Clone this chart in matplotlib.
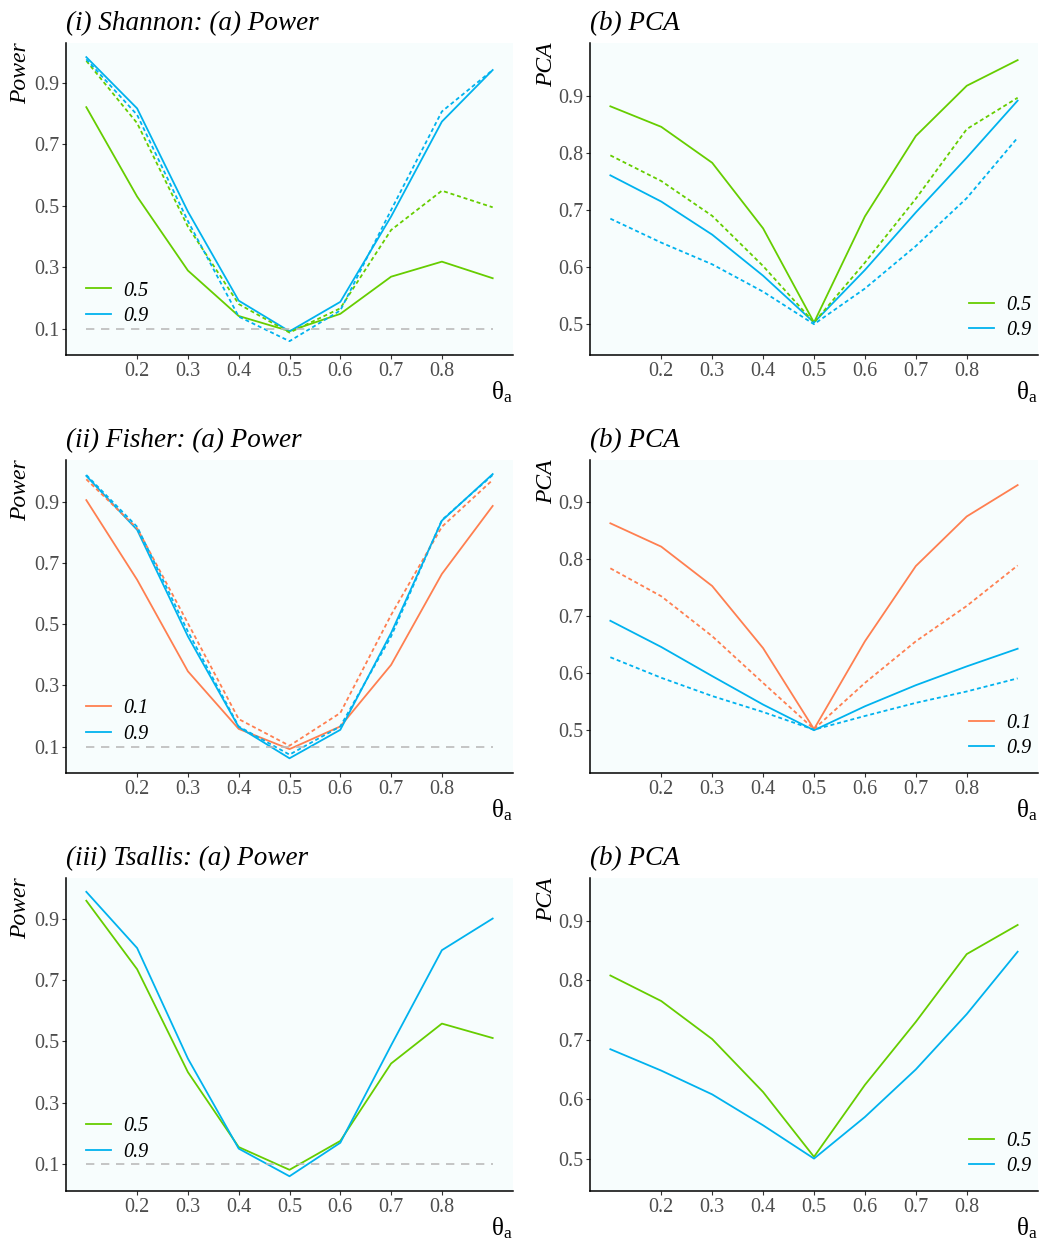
import matplotlib
matplotlib.use("Agg")
import matplotlib.pyplot as plt

plt.rcParams['font.family'] = ['Liberation Serif', 'DejaVu Serif']
plt.rcParams['mathtext.fontset'] = 'custom'
plt.rcParams['mathtext.rm'] = 'Liberation Serif'
plt.rcParams['mathtext.it'] = 'Liberation Serif:italic'

theta = [0.1, 0.2, 0.3, 0.4, 0.5, 0.6, 0.7, 0.8, 0.9]
xticks = [0.2, 0.3, 0.4, 0.5, 0.6, 0.7, 0.8]
power_ticks = [0.1, 0.3, 0.5, 0.7, 0.9]
pca_ticks = [0.5, 0.6, 0.7, 0.8, 0.9]

# (i) Shannon power
sh_pow_05 = [0.821, 0.530, 0.289, 0.141, 0.092, 0.148, 0.269, 0.318, 0.264]
sh_pow_05_d = [0.972, 0.769, 0.432, 0.180, 0.087, 0.166, 0.421, 0.549, 0.495]
sh_pow_09 = [0.984, 0.817, 0.481, 0.191, 0.091, 0.187, 0.465, 0.774, 0.942]
sh_pow_09_d = [0.977, 0.796, 0.450, 0.139, 0.059, 0.159, 0.486, 0.807, 0.942]
# (i) Shannon PCA
sh_pca_05 = [0.882, 0.846, 0.783, 0.668, 0.503, 0.689, 0.830, 0.918, 0.963]
sh_pca_05_d = [0.796, 0.751, 0.690, 0.602, 0.503, 0.608, 0.720, 0.842, 0.897]
sh_pca_09 = [0.761, 0.715, 0.657, 0.585, 0.503, 0.595, 0.696, 0.792, 0.892]
sh_pca_09_d = [0.685, 0.643, 0.605, 0.557, 0.500, 0.5625, 0.637, 0.721, 0.827]
# (ii) Fisher power
fi_pow_01 = [0.905, 0.645, 0.346, 0.158, 0.092, 0.166, 0.367, 0.664, 0.886]
fi_pow_01_d = [0.973, 0.813, 0.503, 0.190, 0.103, 0.210, 0.530, 0.818, 0.971]
fi_pow_09 = [0.984, 0.808, 0.460, 0.164, 0.062, 0.155, 0.471, 0.838, 0.990]
fi_pow_09_d = [0.987, 0.818, 0.476, 0.166, 0.074, 0.166, 0.460, 0.840, 0.987]
# (ii) Fisher PCA
fi_pca_01 = [0.863, 0.822, 0.753, 0.644, 0.502, 0.656, 0.788, 0.875, 0.930]
fi_pca_01_d = [0.784, 0.735, 0.665, 0.583, 0.502, 0.583, 0.656, 0.718, 0.789]
fi_pca_09 = [0.692, 0.646, 0.595, 0.545, 0.500, 0.542, 0.579, 0.612, 0.643]
fi_pca_09_d = [0.628, 0.592, 0.560, 0.532, 0.501, 0.525, 0.548, 0.568, 0.591]
# (iii) Tsallis power
ts_pow_05 = [0.958, 0.735, 0.400, 0.156, 0.082, 0.176, 0.428, 0.558, 0.511]
ts_pow_09 = [0.987, 0.804, 0.444, 0.151, 0.061, 0.170, 0.487, 0.797, 0.900]
# (iii) Tsallis PCA
ts_pca_05 = [0.808, 0.765, 0.701, 0.612, 0.503, 0.624, 0.730, 0.844, 0.893]
ts_pca_09 = [0.684, 0.648, 0.608, 0.556, 0.500, 0.570, 0.650, 0.743, 0.848]

GREEN = '#66CD00'
BLUE = '#00B2EE'
ORANGE = '#FF7F50'
BG = '#F7FDFD'
DOT = (0, (2.2, 1.6))

W, H = 1042, 1239
fig = plt.figure(figsize=(W / 100, H / 100), dpi=100)

cols = [(66, 513), (590, 1038)]
rows = [(43, 355), (460, 773), (878, 1191)]

LEG = dict(frameon=False, prop={'style': 'italic', 'size': 14.5},
           handlelength=1.25, handletextpad=0.6, labelspacing=0.3,
           borderaxespad=0, borderpad=0)


def make_ax(r, c):
    l, rr = cols[c]
    t, b = rows[r]
    ax = fig.add_axes([l / W, 1 - b / H, (rr - l) / W, (b - t) / H])
    ax.set_facecolor(BG)
    for s in ['top', 'right']:
        ax.spines[s].set_visible(False)
    for s in ['left', 'bottom']:
        ax.spines[s].set_linewidth(1.1)
        ax.spines[s].set_color('black')
    ax.tick_params(axis='both', colors='#333333', labelcolor='#4D4D4D',
                   labelsize=14.5, length=3, width=0.8, pad=2)
    ax.set_xlim(0.06, 0.94)
    ax.set_xticks(xticks)
    ax.set_xticklabels([f"{v:.1f}" for v in xticks])
    ax.text(1.0, -37 / (b - t), r'θ$_{\mathrm{a}}$', transform=ax.transAxes,
            ha='right', va='center', fontsize=18)
    return ax


def title(ax, s):
    ax.set_title(s, fontsize=19.5, style='italic', loc='left', pad=9)


def ylab(ax, s, x, y):
    ax.set_ylabel(s, fontsize=17, style='italic')
    ax.yaxis.set_label_coords(x, y)


lw = 1.3

# Row 1
ax = make_ax(0, 0)
ax.plot(theta, sh_pow_05, color=GREEN, lw=lw, label='0.5')
ax.plot(theta, sh_pow_09, color=BLUE, lw=lw, label='0.9')
ax.plot(theta, sh_pow_05_d, color=GREEN, lw=lw, ls=DOT)
ax.plot(theta, sh_pow_09_d, color=BLUE, lw=lw, ls=DOT)
ax.plot([0.1, 0.9], [0.1, 0.1], color='#BBBBBB', lw=1.2, ls=(0, (5, 4)))
ax.set_ylim(0.014, 1.03)
ax.set_yticks(power_ticks)
ax.set_yticklabels([f"{v:.1f}" for v in power_ticks])
ylab(ax, 'Power', -0.077, 0.905)
title(ax, '(i) Shannon: (a) Power')
ax.legend(loc='lower left', bbox_to_anchor=(0.045, 0.094), **LEG)

ax = make_ax(0, 1)
ax.plot(theta, sh_pca_05, color=GREEN, lw=lw, label='0.5')
ax.plot(theta, sh_pca_09, color=BLUE, lw=lw, label='0.9')
ax.plot(theta, sh_pca_05_d, color=GREEN, lw=lw, ls=DOT)
ax.plot(theta, sh_pca_09_d, color=BLUE, lw=lw, ls=DOT)
ax.set_ylim(0.446, 0.993)
ax.set_yticks(pca_ticks)
ax.set_yticklabels([f"{v:.1f}" for v in pca_ticks])
ylab(ax, 'PCA', -0.073, 0.93)
title(ax, '(b) PCA')
ax.legend(loc='lower right', bbox_to_anchor=(0.985, 0.048), **LEG)

# Row 2
ax = make_ax(1, 0)
ax.plot(theta, fi_pow_01, color=ORANGE, lw=lw, label='0.1')
ax.plot(theta, fi_pow_09, color=BLUE, lw=lw, label='0.9')
ax.plot(theta, fi_pow_01_d, color=ORANGE, lw=lw, ls=DOT)
ax.plot(theta, fi_pow_09_d, color=BLUE, lw=lw, ls=DOT)
ax.plot([0.1, 0.9], [0.1, 0.1], color='#BBBBBB', lw=1.2, ls=(0, (5, 4)))
ax.set_ylim(0.014, 1.036)
ax.set_yticks(power_ticks)
ax.set_yticklabels([f"{v:.1f}" for v in power_ticks])
ylab(ax, 'Power', -0.077, 0.905)
title(ax, '(ii) Fisher: (a) Power')
ax.legend(loc='lower left', bbox_to_anchor=(0.045, 0.094), **LEG)

ax = make_ax(1, 1)
ax.plot(theta, fi_pca_01, color=ORANGE, lw=lw, label='0.1')
ax.plot(theta, fi_pca_09, color=BLUE, lw=lw, label='0.9')
ax.plot(theta, fi_pca_01_d, color=ORANGE, lw=lw, ls=DOT)
ax.plot(theta, fi_pca_09_d, color=BLUE, lw=lw, ls=DOT)
ax.set_ylim(0.425, 0.974)
ax.set_yticks(pca_ticks)
ax.set_yticklabels([f"{v:.1f}" for v in pca_ticks])
ylab(ax, 'PCA', -0.073, 0.93)
title(ax, '(b) PCA')
ax.legend(loc='lower right', bbox_to_anchor=(0.985, 0.048), **LEG)

# Row 3
ax = make_ax(2, 0)
ax.plot(theta, ts_pow_05, color=GREEN, lw=lw, label='0.5')
ax.plot(theta, ts_pow_09, color=BLUE, lw=lw, label='0.9')
ax.plot([0.1, 0.9], [0.1, 0.1], color='#BBBBBB', lw=1.2, ls=(0, (5, 4)))
ax.set_ylim(0.013, 1.032)
ax.set_yticks(power_ticks)
ax.set_yticklabels([f"{v:.1f}" for v in power_ticks])
ylab(ax, 'Power', -0.077, 0.905)
title(ax, '(iii) Tsallis: (a) Power')
ax.legend(loc='lower left', bbox_to_anchor=(0.045, 0.094), **LEG)

ax = make_ax(2, 1)
ax.plot(theta, ts_pca_05, color=GREEN, lw=lw, label='0.5')
ax.plot(theta, ts_pca_09, color=BLUE, lw=lw, label='0.9')
ax.set_ylim(0.4455, 0.972)
ax.set_yticks(pca_ticks)
ax.set_yticklabels([f"{v:.1f}" for v in pca_ticks])
ylab(ax, 'PCA', -0.073, 0.93)
title(ax, '(b) PCA')
ax.legend(loc='lower right', bbox_to_anchor=(0.985, 0.048), **LEG)

fig.savefig('out.png', dpi=100, facecolor='white')
